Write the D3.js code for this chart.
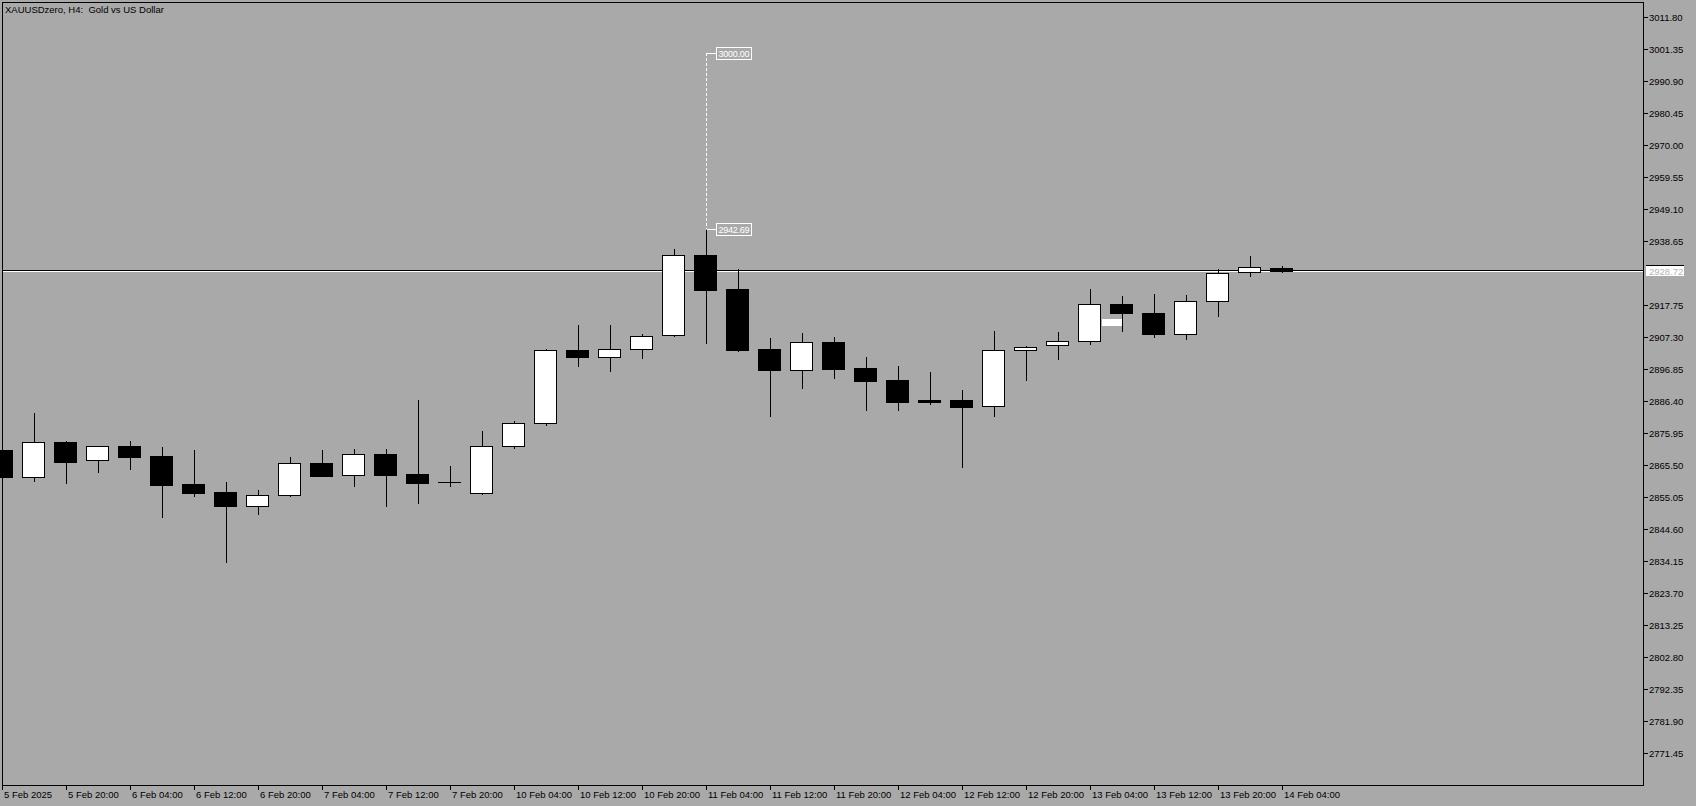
<!DOCTYPE html>
<html lang="en">
<head>
  <meta charset="utf-8">
  <title>XAUUSDzero, H4: Gold vs US Dollar</title>
  <script src="https://d3js.org/d3.v7.min.js"></script>
  <style>
    body { margin: 0; background: #a9a9a9; overflow: hidden; }
    text { font-family: "Liberation Sans", Arial, sans-serif; }
  </style>
</head>
<body>
<div id="chart"></div>
<script>
// H4 bars, 5 Feb 12:00 .. 14 Feb 04:00
const opens  = [2870.46, 2861.74, 2873.07, 2867.29, 2871.67, 2868.40, 2859.26, 2856.65, 2852.28, 2855.87,
                2866.12, 2862.20, 2869.05, 2862.53, 2859.91, 2856.32, 2871.67, 2879.17, 2903.00, 2900.91,
                2903.33, 2907.90, 2934.11, 2922.91, 2903.43, 2896.67, 2905.61, 2897.23, 2893.21, 2886.68,
                2886.68, 2884.72, 2903.00, 2904.63, 2905.94, 2918.12, 2915.18, 2908.42, 2919.00, 2928.46,
                2929.87];
const highs  = [2871.10, 2882.44, 2873.30, 2871.80, 2873.40, 2871.44, 2870.46, 2860.01, 2857.40, 2868.17,
                2870.46, 2870.78, 2870.78, 2886.78, 2865.24, 2876.66, 2879.92, 2903.43, 2911.26, 2911.26,
                2908.32, 2936.07, 2942.69, 2929.54, 2907.02, 2908.65, 2907.34, 2900.82, 2897.88, 2895.92,
                2890.04, 2909.30, 2904.41, 2908.98, 2923.01, 2920.73, 2921.38, 2921.05, 2929.54, 2933.79,
                2930.52];
const lows   = [2861.30, 2860.44, 2859.78, 2863.38, 2864.26, 2848.69, 2855.54, 2834.00, 2849.57, 2855.54,
                2861.97, 2858.80, 2852.28, 2853.26, 2858.80, 2856.10, 2871.21, 2878.62, 2897.98, 2896.34,
                2900.59, 2907.70, 2905.48, 2902.87, 2881.65, 2890.80, 2894.06, 2883.61, 2883.61, 2885.57,
                2865.01, 2881.65, 2893.41, 2900.26, 2905.16, 2909.40, 2907.44, 2906.79, 2914.30, 2927.35,
                2928.40];
const closes = [2861.74, 2872.97, 2866.64, 2871.67, 2868.27, 2859.13, 2856.52, 2852.28, 2855.67, 2866.12,
                2862.07, 2869.05, 2862.40, 2859.78, 2859.91, 2871.67, 2879.17, 2903.00, 2900.91, 2903.33,
                2907.57, 2934.01, 2922.78, 2903.20, 2896.67, 2905.61, 2897.00, 2893.08, 2886.22, 2886.22,
                2884.59, 2903.00, 2903.98, 2905.94, 2918.02, 2915.28, 2908.42, 2919.00, 2928.24, 2930.10,
                2928.72];

// time axis labels, one every 2 bars
const xLabels = ["5 Feb 2025", "5 Feb 20:00", "6 Feb 04:00", "6 Feb 12:00", "6 Feb 20:00", "7 Feb 04:00",
                 "7 Feb 12:00", "7 Feb 20:00", "10 Feb 04:00", "10 Feb 12:00", "10 Feb 20:00", "11 Feb 04:00",
                 "11 Feb 12:00", "11 Feb 20:00", "12 Feb 04:00", "12 Feb 12:00", "12 Feb 20:00", "13 Feb 04:00",
                 "13 Feb 12:00", "13 Feb 20:00", "14 Feb 04:00"];
const xLabelBars = xLabels.map((d, i) => i * 2);

// price axis labels
const yTicks = [3011.80, 3001.35, 2990.90, 2980.45, 2970.00, 2959.55, 2949.10, 2938.65, 2917.75, 2907.30,
                2896.85, 2886.40, 2875.95, 2865.50, 2855.05, 2844.60, 2834.15, 2823.70, 2813.25, 2802.80,
                2792.35, 2781.90, 2771.45];

const bidPrice = 2928.72;
// measure tool: from the 11 Feb 04:00 high up to 3000
const measureBar = 22;
const measureFrom = 2942.69;
const measureTo = 3000.00;
// small white object next to 13 Feb 04:00
const objBars = [34, 35];
const objPrices = [2911.0, 2913.2];

const W = 1696, H = 806;
const plot = {left: 2, top: 2, right: 1643, bottom: 785};
const bg = "#a9a9a9";

const svg = d3.select("#chart").append("svg")
  .attr("width", W)
  .attr("height", H)
  .style("display", "block");

svg.append("rect").attr("width", W).attr("height", H).attr("fill", bg);

// scales
const x = d3.scaleLinear().domain([0, 40]).range([2, 1282]);
const y = d3.scaleLinear().domain([2771.45, 3011.80]).range([753.3, 16.7]);
const ry = v => Math.round(y(v));

const bars = d3.range(opens.length).map(i => ({
  i: i, o: opens[i], h: highs[i], l: lows[i], c: closes[i]
}));

const g = svg.append("g");

// price line (black + white)
g.append("line")
  .attr("x1", plot.left).attr("x2", plot.right)
  .attr("y1", ry(bidPrice) - 1 + 0.5).attr("y2", ry(bidPrice) - 1 + 0.5)
  .attr("stroke", "#000");
g.append("line")
  .attr("x1", plot.left).attr("x2", plot.right)
  .attr("y1", ry(bidPrice) + 0.5).attr("y2", ry(bidPrice) + 0.5)
  .attr("stroke", "#fff");

// wicks
g.selectAll(".wick")
  .data(bars)
  .enter()
  .append("line")
  .attr("class", "wick")
  .attr("x1", d => Math.round(x(d.i)) + 0.5)
  .attr("x2", d => Math.round(x(d.i)) + 0.5)
  .attr("y1", d => ry(d.h))
  .attr("y2", d => ry(d.l) + 1)
  .attr("stroke", "#000");

// bodies (flat ones drawn as a line)
const bodyTop = d => ry(Math.max(d.o, d.c));
const bodyH = d => ry(Math.min(d.o, d.c)) - bodyTop(d);

g.selectAll(".body")
  .data(bars.filter(d => bodyH(d) > 0))
  .enter()
  .append("rect")
  .attr("class", "body")
  .attr("x", d => Math.round(x(d.i)) - 11.5)
  .attr("width", 22)
  .attr("y", d => bodyTop(d) + 0.5)
  .attr("height", bodyH)
  .attr("fill", d => d.c > d.o ? "#fff" : "#000")
  .attr("stroke", "#000");

g.selectAll(".doji")
  .data(bars.filter(d => bodyH(d) <= 0))
  .enter()
  .append("line")
  .attr("class", "doji")
  .attr("x1", d => Math.round(x(d.i)) - 12)
  .attr("x2", d => Math.round(x(d.i)) + 11)
  .attr("y1", d => bodyTop(d) + 0.5)
  .attr("y2", d => bodyTop(d) + 0.5)
  .attr("stroke", "#000");

// white object
g.append("rect")
  .attr("x", Math.round(x(objBars[0])) + 12)
  .attr("width", Math.round(x(objBars[1])) - Math.round(x(objBars[0])) - 12)
  .attr("y", ry(objPrices[1]))
  .attr("height", ry(objPrices[0]) - ry(objPrices[1]))
  .attr("fill", "#fff");

// measure tool: dashed line and the two price boxes
const mx = Math.round(x(measureBar)) + 0.5;
g.append("line")
  .attr("x1", mx).attr("x2", mx)
  .attr("y1", ry(measureTo)).attr("y2", ry(measureFrom))
  .attr("stroke", "#fff")
  .attr("stroke-dasharray", "3,2");
[measureTo, measureFrom].forEach(p => {
  const py = ry(p) + 0.5;
  g.append("line")
    .attr("x1", mx).attr("x2", mx + 10)
    .attr("y1", py).attr("y2", py)
    .attr("stroke", "#fff");
  g.append("rect")
    .attr("x", mx + 10).attr("y", py - 6)
    .attr("width", 35).attr("height", 12)
    .attr("fill", "none")
    .attr("stroke", "#fff");
  g.append("text")
    .attr("x", mx + 12).attr("y", py + 3.5)
    .attr("fill", "#fff")
    .style("font-size", "9px")
    .attr("textLength", 31)
    .text(p.toFixed(2));
});

// frame
svg.append("rect")
  .attr("x", plot.left + 0.5).attr("y", plot.top + 0.5)
  .attr("width", plot.right - plot.left).attr("height", plot.bottom - plot.top)
  .attr("fill", "none")
  .attr("stroke", "#000");

// y axis ticks + labels
const yAxis = svg.append("g");
yTicks.forEach(v => {
  const ty = ry(v) + 0.5;
  yAxis.append("line")
    .attr("x1", plot.right).attr("x2", plot.right + 5)
    .attr("y1", ty).attr("y2", ty)
    .attr("stroke", "#000");
  yAxis.append("text")
    .attr("x", plot.right + 6).attr("y", ty + 3.5)
    .attr("fill", "#000")
    .style("font-size", "9.5px")
    .text(v.toFixed(2));
});

// bid price box on the axis
const by = ry(bidPrice);
yAxis.append("rect")
  .attr("x", plot.right + 3).attr("y", by - 6)
  .attr("width", 38).attr("height", 11)
  .attr("fill", "#fff");
yAxis.append("line")
  .attr("x1", plot.right + 3).attr("x2", plot.right + 41)
  .attr("y1", by - 5.5).attr("y2", by - 5.5)
  .attr("stroke", "#000");
yAxis.append("text")
  .attr("x", plot.right + 6).attr("y", by + 3.5)
  .attr("fill", "#b4b4b4")
  .style("font-size", "9.5px")
  .text(bidPrice.toFixed(2));

// x axis ticks + labels
const xAxis = svg.append("g");
xLabels.forEach((t, i) => {
  const tx = Math.round(x(xLabelBars[i])) + 0.5;
  xAxis.append("line")
    .attr("x1", tx).attr("x2", tx)
    .attr("y1", plot.bottom).attr("y2", plot.bottom + 5)
    .attr("stroke", "#000");
  xAxis.append("text")
    .attr("x", tx + 1.5).attr("y", plot.bottom + 13)
    .attr("fill", "#000")
    .style("font-size", "9.5px")
    .text(t);
});

// title
svg.append("text")
  .attr("x", 5).attr("y", 13)
  .attr("fill", "#000")
  .style("font-size", "9.5px")
  .style("white-space", "pre")
  .text("XAUUSDzero, H4:  Gold vs US Dollar");
</script>
</body>
</html>
